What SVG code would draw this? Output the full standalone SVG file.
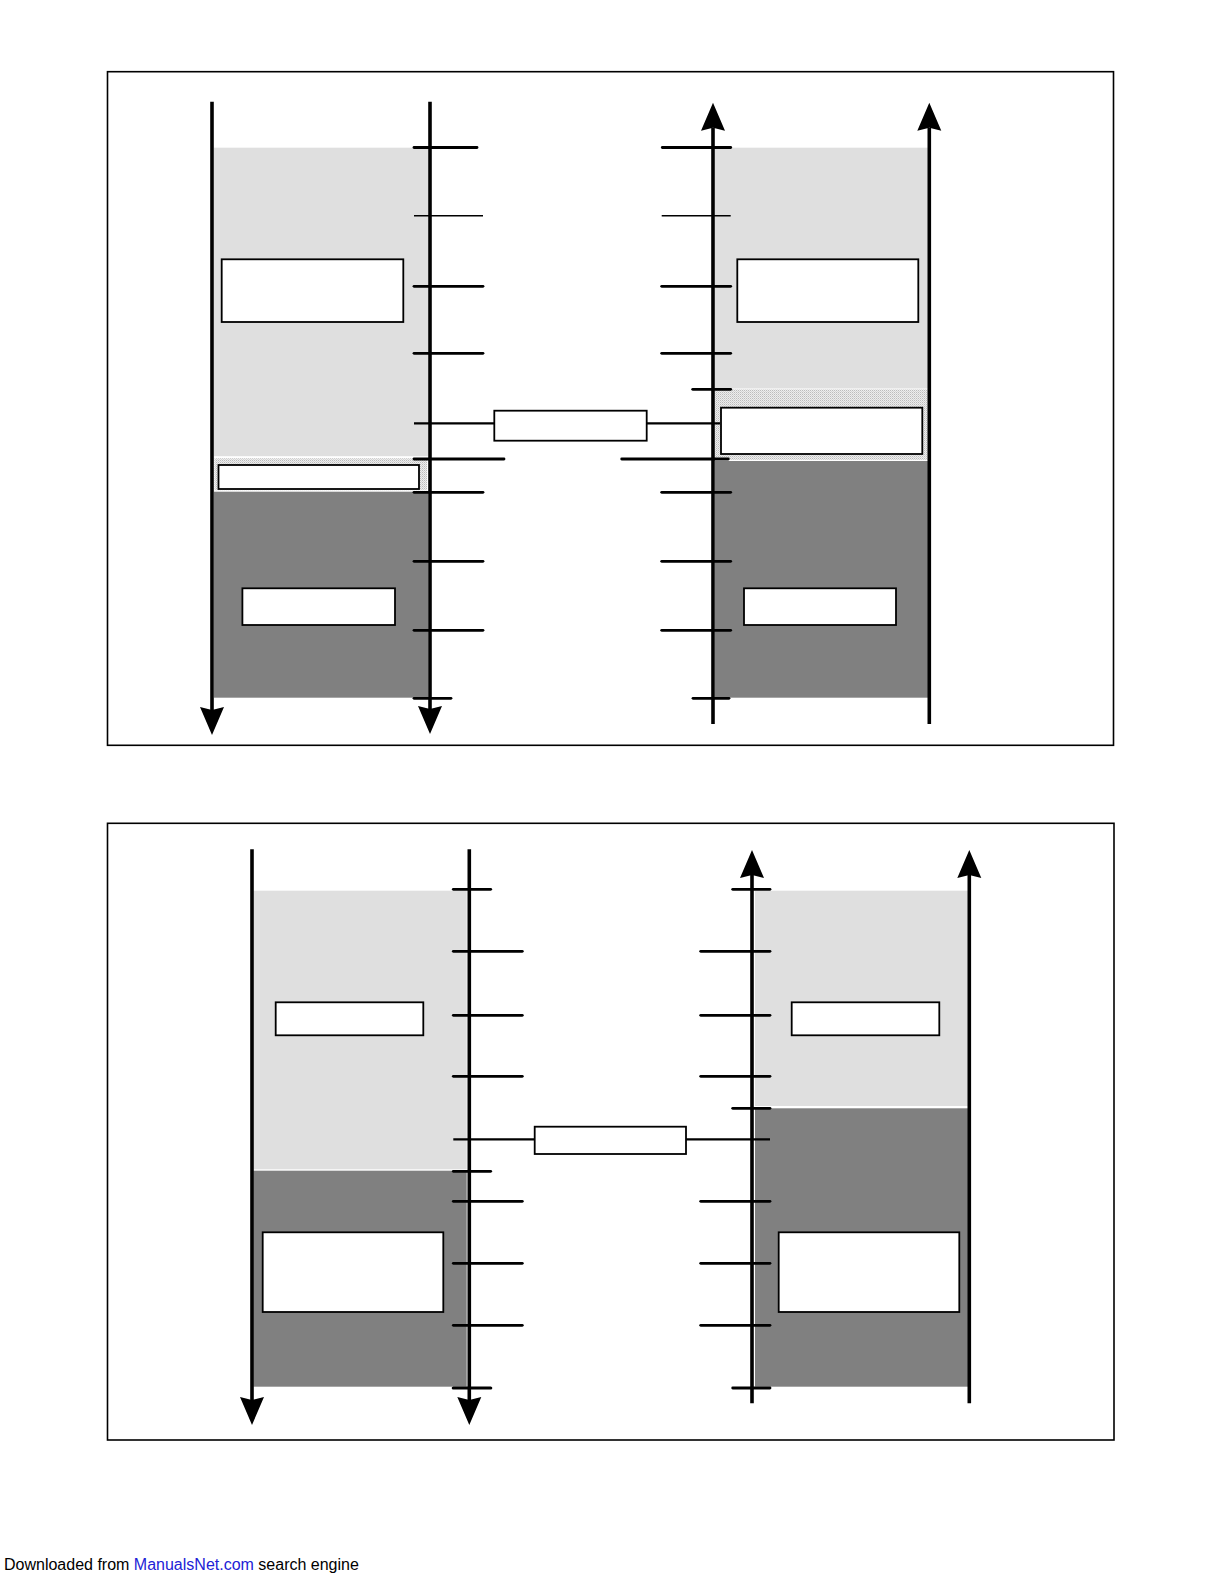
<svg xmlns="http://www.w3.org/2000/svg" width="1224" height="1584" viewBox="0 0 1224 1584">
<style>
.frame{fill:none;stroke:#000;stroke-width:1.6}
.light{fill:#dfdfdf}
.dark{fill:#808080}
.dot{fill:url(#dots)}
.box{fill:#fff;stroke:#000;stroke-width:1.8}
.axis{stroke:#000;stroke-width:3.6;fill:none}
.tick{stroke:#000;stroke-width:2.8;stroke-linecap:round}
.thin{stroke:#000;stroke-width:1.6}
.conn{stroke:#000;stroke-width:2.2}
.foot{font-family:"Liberation Sans",Arial,sans-serif;font-size:16px;fill:#000}
</style>
<defs>
<pattern id="dots" width="2" height="2" patternUnits="userSpaceOnUse">
<rect width="2" height="2" fill="#ededed"/>
<rect width="1" height="1" fill="#bcbcbc"/>
<rect x="1" y="1" width="1" height="1" fill="#d4d4d4"/>
</pattern>
<marker id="ah" viewBox="0 0 28 24" refX="3" refY="12" markerUnits="userSpaceOnUse" markerWidth="28" markerHeight="24" orient="auto" overflow="visible">
<path d="M0,0 L28,12 L0,24 L3,12 z" fill="#000"/>
</marker>
</defs>
<rect width="1224" height="1584" fill="#fff"/>

<!-- ===== TOP DIAGRAM ===== -->
<g id="top-frame"><rect class="frame" x="107.5" y="71.7" width="1006" height="673.6"/></g>

<g id="top-left-column">
<rect class="light" x="214" y="147.7" width="214" height="308.5"/>
<rect class="dot" x="214.5" y="458.3" width="212.5" height="31.9"/>
<rect class="dark" x="214" y="491.7" width="214" height="206"/>
</g>
<g id="top-right-column">
<rect class="light" x="715" y="147.7" width="213" height="240.8"/>
<rect class="dot" x="715" y="389.3" width="213" height="70.7"/>
<rect class="dark" x="715" y="461" width="213" height="236.7"/>
</g>

<g id="top-left-box-upper"><rect class="box" x="221.7" y="259.3" width="181.6" height="62.7"/></g>
<g id="top-left-box-band"><rect class="box" x="218.5" y="465" width="200.5" height="24"/></g>
<g id="top-left-box-lower"><rect class="box" x="242.4" y="588.3" width="152.6" height="36.7"/></g>
<g id="top-right-box-upper"><rect class="box" x="737.3" y="259.3" width="181" height="62.7"/></g>
<g id="top-right-box-band"><rect class="box" x="721" y="407.7" width="201.3" height="46.3"/></g>
<g id="top-right-box-lower"><rect class="box" x="744" y="588.3" width="152" height="36.7"/></g>
<g id="top-center-box"><rect class="box" x="494.3" y="410.7" width="152.4" height="30"/></g>

<g id="top-connectors">
<line class="axis" x1="212" y1="101.7" x2="212" y2="710" marker-end="url(#ah)"/>
<line class="axis" x1="430" y1="101.7" x2="430" y2="709" marker-end="url(#ah)"/>
<line class="axis" x1="713" y1="724" x2="713" y2="127.7" marker-end="url(#ah)"/>
<line class="axis" x1="929.3" y1="724" x2="929.3" y2="127.7" marker-end="url(#ah)"/>
<!-- left ticks -->
<line class="tick" x1="414" y1="147.5" x2="477" y2="147.5"/>
<line class="thin" x1="414" y1="215.7" x2="483" y2="215.7"/>
<line class="tick" x1="414" y1="286.3" x2="483" y2="286.3"/>
<line class="tick" x1="414" y1="353.3" x2="483" y2="353.3"/>
<line class="conn" x1="414" y1="423.3" x2="494.3" y2="423.3"/>
<line class="tick" x1="414" y1="459" x2="504" y2="459"/>
<line class="tick" x1="414" y1="492.3" x2="483" y2="492.3"/>
<line class="tick" x1="414" y1="561.3" x2="483" y2="561.3"/>
<line class="tick" x1="414" y1="630.3" x2="483" y2="630.3"/>
<line class="tick" x1="414" y1="698.3" x2="451" y2="698.3"/>
<!-- right ticks -->
<line class="tick" x1="662.3" y1="147.5" x2="730.7" y2="147.5"/>
<line class="thin" x1="661.7" y1="215.7" x2="730.7" y2="215.7"/>
<line class="tick" x1="661.7" y1="286.3" x2="730.7" y2="286.3"/>
<line class="tick" x1="661.7" y1="353.3" x2="730.7" y2="353.3"/>
<line class="tick" x1="692.7" y1="389.3" x2="730.7" y2="389.3"/>
<line class="conn" x1="646.7" y1="423.3" x2="720" y2="423.3"/>
<line class="tick" x1="621.7" y1="459" x2="728.3" y2="459"/>
<line class="tick" x1="661.7" y1="492.3" x2="730.7" y2="492.3"/>
<line class="tick" x1="661.7" y1="561.3" x2="730.7" y2="561.3"/>
<line class="tick" x1="661.7" y1="630.3" x2="730.7" y2="630.3"/>
<line class="tick" x1="693" y1="698.3" x2="729" y2="698.3"/>
</g>

<!-- ===== BOTTOM DIAGRAM ===== -->
<g id="bottom-frame"><rect class="frame" x="107.5" y="823.3" width="1006.5" height="616.7"/></g>

<g id="bottom-left-column">
<rect class="light" x="253.3" y="890.7" width="213.4" height="278.6"/>
<rect class="dark" x="253.3" y="1170.7" width="213.4" height="216"/>
</g>
<g id="bottom-right-column">
<rect class="light" x="755" y="890.7" width="213.3" height="215.3"/>
<rect class="dark" x="755" y="1108.3" width="213.3" height="278.4"/>
</g>

<g id="bottom-left-box-upper"><rect class="box" x="275.7" y="1002.3" width="147.6" height="33"/></g>
<g id="bottom-left-box-lower"><rect class="box" x="262.7" y="1232.3" width="180.6" height="79.7"/></g>
<g id="bottom-right-box-upper"><rect class="box" x="791.7" y="1002.3" width="147.6" height="33"/></g>
<g id="bottom-right-box-lower"><rect class="box" x="778.7" y="1232.3" width="180.6" height="79.7"/></g>
<g id="bottom-center-box"><rect class="box" x="534.7" y="1126.7" width="151.3" height="27.3"/></g>

<g id="bottom-connectors">
<line class="axis" x1="252" y1="849.3" x2="252" y2="1400" marker-end="url(#ah)"/>
<line class="axis" x1="469.3" y1="849.3" x2="469.3" y2="1400" marker-end="url(#ah)"/>
<line class="axis" x1="752" y1="1403.3" x2="752" y2="875" marker-end="url(#ah)"/>
<line class="axis" x1="969.3" y1="1403.3" x2="969.3" y2="875" marker-end="url(#ah)"/>
<!-- left ticks -->
<line class="tick" x1="453.3" y1="889.3" x2="490.7" y2="889.3"/>
<line class="tick" x1="453.3" y1="951.3" x2="522.3" y2="951.3"/>
<line class="tick" x1="453.3" y1="1015.3" x2="522.3" y2="1015.3"/>
<line class="tick" x1="453.3" y1="1076.3" x2="522.3" y2="1076.3"/>
<line class="conn" x1="453.3" y1="1139.3" x2="534.7" y2="1139.3"/>
<line class="tick" x1="453.3" y1="1171.3" x2="490.7" y2="1171.3"/>
<line class="tick" x1="453.3" y1="1201.3" x2="522.3" y2="1201.3"/>
<line class="tick" x1="453.3" y1="1263.3" x2="522.3" y2="1263.3"/>
<line class="tick" x1="453.3" y1="1325.3" x2="522.3" y2="1325.3"/>
<line class="tick" x1="453.3" y1="1388" x2="490.7" y2="1388" style="stroke-width:3.2"/>
<!-- right ticks -->
<line class="tick" x1="732.7" y1="889.3" x2="770" y2="889.3"/>
<line class="tick" x1="700.7" y1="951.3" x2="770" y2="951.3"/>
<line class="tick" x1="700.7" y1="1015.3" x2="770" y2="1015.3"/>
<line class="tick" x1="700.7" y1="1076.3" x2="770" y2="1076.3"/>
<line class="tick" x1="732.7" y1="1108.3" x2="770" y2="1108.3"/>
<line class="conn" x1="686" y1="1139.3" x2="770" y2="1139.3"/>
<line class="tick" x1="700.7" y1="1201.3" x2="770" y2="1201.3"/>
<line class="tick" x1="700.7" y1="1263.3" x2="770" y2="1263.3"/>
<line class="tick" x1="700.7" y1="1325.3" x2="770" y2="1325.3"/>
<line class="tick" x1="732.7" y1="1388" x2="770" y2="1388"/>
</g>

<text class="foot" x="4" y="1570">Downloaded from <tspan fill="#2222d6">ManualsNet.com</tspan> search engine</text>
</svg>
